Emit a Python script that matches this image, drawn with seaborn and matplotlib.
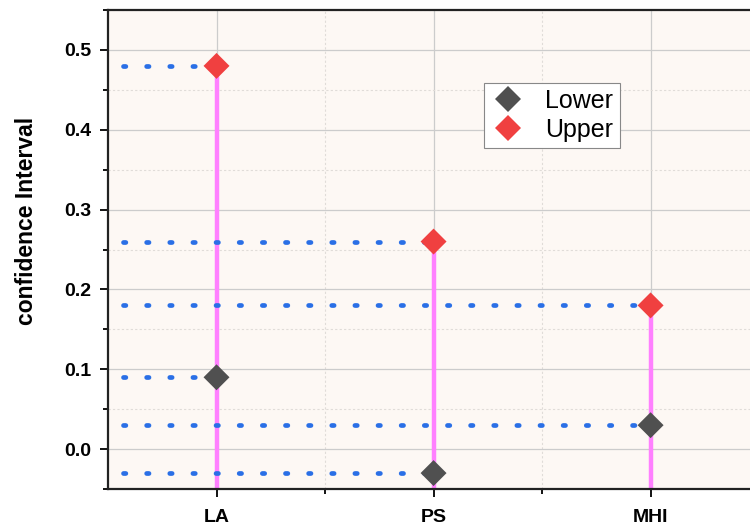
import numpy as np
import pandas as pd
import matplotlib
matplotlib.use("Agg")
import matplotlib.pyplot as plt
from matplotlib.ticker import MultipleLocator
import seaborn as sns

categories = ["LA", "PS", "MHI"]
lower = [0.09, -0.03, 0.03]
upper = [0.48, 0.26, 0.18]

sns.set_style("ticks")
plt.rcParams["font.family"] = ["Liberation Sans", "DejaVu Sans"]
plt.rcParams["text.color"] = "black"
plt.rcParams["axes.labelcolor"] = "black"
plt.rcParams["xtick.color"] = "black"
plt.rcParams["ytick.color"] = "black"

df = pd.DataFrame({
    "cat": categories * 2,
    "x": list(range(len(categories))) * 2,
    "value": lower + upper,
    "bound": ["Lower"] * len(categories) + ["Upper"] * len(categories),
})

fig = plt.figure(figsize=(7.5, 5.27), dpi=100)
ax = fig.add_axes([0.144, 0.072, 0.856, 0.909])
ax.set_facecolor("#fdf8f4")

XMIN, YMIN = -0.5, -0.05
xs = np.arange(len(categories))

# grid
ax.set_xlim(XMIN, 2.458)
ax.set_ylim(YMIN, 0.55)
ax.yaxis.set_major_locator(MultipleLocator(0.1))
ax.yaxis.set_minor_locator(MultipleLocator(0.05))
ax.set_xticks(xs)
ax.set_xticks([0.5, 1.5], minor=True)
ax.grid(True, which="major", color="#cccccc", lw=0.9)
ax.grid(True, which="minor", color="#e0dcd8", lw=0.8, ls=(0, (2, 2)))
ax.set_axisbelow(True)

# stems and dotted guide lines
ax.vlines(xs, YMIN, upper, color="#ff80ff", lw=3.2, zorder=2)
for xv, lo, up in zip(xs, lower, upper):
    for v in (lo, up):
        ax.plot([-0.43, xv - 0.04], [v, v], color="#2a6fe6", lw=3.4,
                ls=(0, (0.5, 4.4)), dash_capstyle="round", zorder=2)

sns.scatterplot(data=df, x="x", y="value", hue="bound", style="bound",
                markers={"Lower": "D", "Upper": "D"},
                palette={"Lower": "#505050", "Upper": "#f04040"},
                s=175, linewidth=0, ax=ax, zorder=3)

ax.set_xticklabels(categories, fontsize=14, fontweight="bold")
for lab in ax.get_yticklabels():
    lab.set_fontweight("bold")
ax.tick_params(axis="y", labelsize=14, width=1.3, length=6, direction="out", pad=6)
ax.tick_params(axis="y", which="minor", width=1.3, length=3.5)
ax.tick_params(axis="x", width=1.3, length=6, direction="out", pad=8)
ax.tick_params(axis="x", which="minor", width=1.3, length=3.5)
ax.set_xlabel("")
ax.set_ylabel("confidence Interval", fontsize=16.5, fontweight="bold")
ax.yaxis.set_label_coords(-0.109, 0.56)

for side in ("left", "bottom", "top"):
    ax.spines[side].set_visible(True)
    ax.spines[side].set_linewidth(1.6)
    ax.spines[side].set_color("#222222")
ax.spines["right"].set_visible(False)

handles, labels = ax.get_legend_handles_labels()
leg = ax.legend(handles=handles, labels=labels, loc="upper left",
                bbox_to_anchor=(0.586, 0.848), fontsize=18, frameon=True,
                fancybox=False, edgecolor="#888888", framealpha=1,
                handlelength=1.4, handletextpad=0.8, borderpad=0.25,
                labelspacing=0.2, borderaxespad=0)
leg.get_frame().set_linewidth(0.8)

fig.savefig("out.png", dpi=100)
